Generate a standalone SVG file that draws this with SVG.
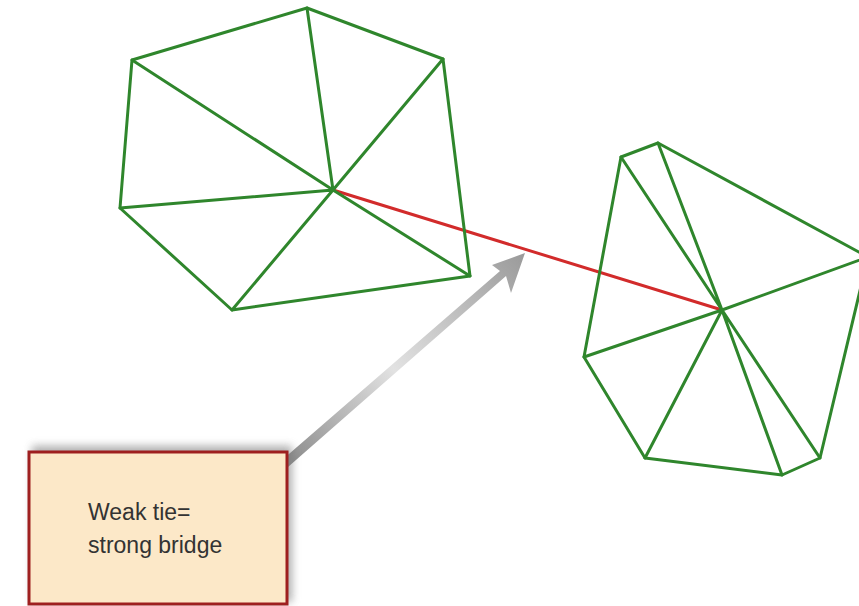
<svg xmlns="http://www.w3.org/2000/svg" width="859" height="606" viewBox="0 0 859 606">
<defs>
<style>
.g{stroke:#2f862c;stroke-width:3;fill:none;stroke-linecap:round;stroke-linejoin:round}
.tie{stroke:#d22b2b;stroke-width:3;fill:none;stroke-linecap:round}
.lbl{font-family:"Liberation Sans",Arial,sans-serif;font-size:23px;fill:#333}
</style>
<linearGradient id="ag" gradientUnits="userSpaceOnUse" x1="285" y1="463" x2="525" y2="253">
<stop offset="0" stop-color="#8a8a8a"/>
<stop offset="0.45" stop-color="#e2e2e2"/>
<stop offset="1" stop-color="#9a9a9a"/>
</linearGradient>
<filter id="sh" x="-20%" y="-20%" width="140%" height="140%">
<feGaussianBlur stdDeviation="4"/>
</filter>
</defs>
<rect width="859" height="606" fill="#ffffff"/>
<g id="connectors">
<line class="tie" x1="333" y1="190" x2="722" y2="310"/>
<polygon fill="url(#ag)" points="282,460 288,467 506,276 511,293 525,253 492,265 500,271"/>
</g>
<g id="cluster-left">
<polygon class="g" points="307,8 443,59 470,276 232,310 120,208 132,60"/>
<path class="g" d="M333,190L307,8M333,190L132,60M333,190L443,59M333,190L120,208M333,190L232,310M333,190L470,276"/>
</g>
<g id="cluster-right">
<polygon class="g" points="621,157 658,143 868,257 820,458 782,475 645,458 584,357"/>
<path class="g" d="M722,310L621,157M722,310L658,143M722,310L868,257M722,310L584,357M722,310L645,458M722,310L782,475M722,310L820,458"/>
</g>
<g id="label-box">
<rect x="32" y="446" width="260" height="156" fill="#777" opacity="0.6" filter="url(#sh)"/>
<rect x="29" y="452" width="258" height="152" fill="#fce8c8" stroke="#9e1f1f" stroke-width="3"/>
<text class="lbl" x="88" y="520">Weak tie=</text>
<text class="lbl" x="88" y="553">strong bridge</text>
</g>
</svg>
